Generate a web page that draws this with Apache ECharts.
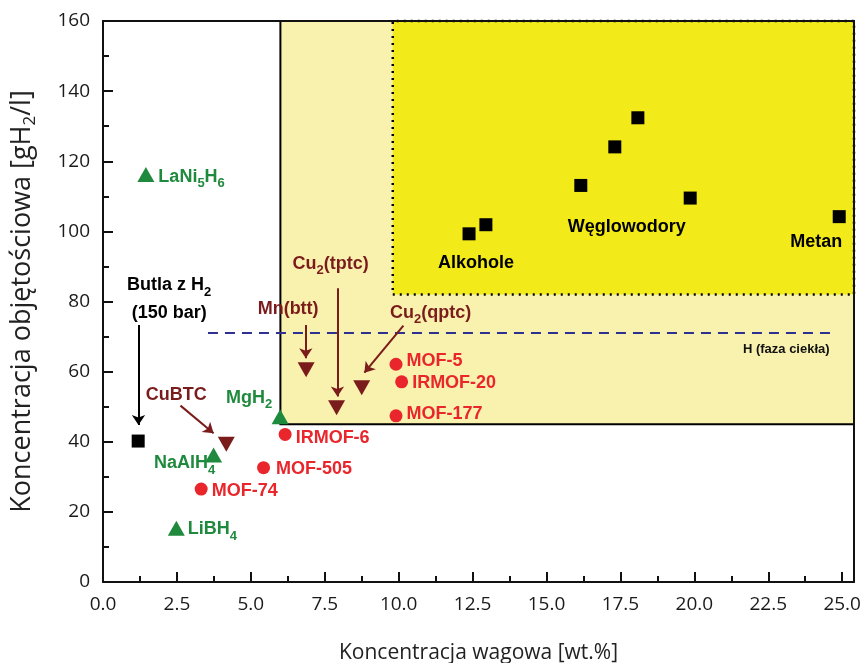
<!DOCTYPE html>
<html><head><meta charset="utf-8">
<script src="https://cdn.jsdelivr.net/npm/echarts@6/dist/echarts.min.js"></script>
<style>html,body{margin:0;padding:0;background:#fff}#c{width:863px;height:663px}</style>
</head><body><div id="c"></div>
<script>
// ---- axes ----
const xTicks = [0, 2.5, 5, 7.5, 10, 12.5, 15, 17.5, 20, 22.5, 25];
const xMinorTicks = [1.25, 3.75, 6.25, 8.75, 11.25, 13.75, 16.25, 18.75, 21.25, 23.75];
const xMax = 25.4;
const yMin = 0, yMax = 160, yStep = 20;

// ---- data ----
// black squares
const sqNames = ['Butla', 'Alk1', 'Alk2', 'Weg1', 'Weg2', 'Weg3', 'Weg4', 'Metan'];
const sqX = [1.19, 12.38, 12.95, 16.16, 17.31, 18.09, 19.86, 24.9];
const sqY = [40.2, 99.3, 101.9, 113.1, 124.1, 132.4, 109.5, 104.2];
// hydrides (green triangles)
const hyNames = ['LaNi5H6', 'NaAlH4', 'LiBH4', 'MgH2'];
const hyX = [1.45, 3.74, 2.48, 5.99];
const hyY = [116.2, 36.2, 15.3, 47.1];
// MOFs (red circles)
const mofNames = ['MOF-74', 'MOF-505', 'IRMOF-6', 'MOF-5', 'IRMOF-20', 'MOF-177'];
const mofX = [3.32, 5.43, 6.16, 9.91, 10.1, 9.91];
const mofY = [26.5, 32.6, 42.1, 62.1, 57.1, 47.4];
// Cu / Mn frameworks (dark red down triangles)
const cuNames = ['CuBTC', 'Mn(btt)', 'Cu2(tptc)', 'Cu2(qptc)'];
const cuX = [4.17, 6.87, 7.9, 8.75];
const cuY = [39.3, 60.5, 49.7, 55.4];
// arrows
const arrowNames = ['Butla', 'CuBTC', 'Mn(btt)', 'Cu2(tptc)', 'Cu2(qptc)'];
const arrowFrom = [[1.2, 73.3], [2.62, 50.3], [6.86, 73.3], [7.93, 83.8], [10.16, 73.1]];
const arrowTo = [[1.2, 44.8], [3.74, 42.4], [6.86, 63.8], [7.93, 52.9], [8.84, 59.7]];
// liquid hydrogen density line
const liquidY = 71;
const liquidX = [3.55, 24.8];
// target regions [xStart, yStart]
const regionLight = [6, 45];
const regionBright = [9.8, 82];

// ---- styles ----
const GREEN = '#1f8a3d', RED = '#e8262b', DRED = '#7b1c1c', BLACK = '#000';
const LF = 'Liberation Sans';
const AF = 'Open Sans';
function rich(color) {
  return {
    m: { fontFamily: LF, fontWeight: 'bold', fontSize: 18, color: color },
    b: { fontFamily: LF, fontWeight: 'bold', fontSize: 18, color: color, lineHeight: 28 },
    s: { fontFamily: LF, fontWeight: 'bold', fontSize: 13, color: color, lineHeight: 14, padding: [14, 0, 0, 0] }
  };
}
const labelSpec = {
  'Butla': { text: '{b|Butla z H}{s|2}\n{b|(150 bar)}', position: 'inside', offset: [31, -142] },
  'Alk1': { text: '{m|Alkohole}', position: 'inside', offset: [7, 29] },
  'Weg1': { text: '{m|Węglowodory}', position: 'inside', offset: [46, 42] },
  'Metan': { text: '{m|Metan}', position: 'inside', offset: [-23, 25] },
  'LaNi5H6': { text: '{m|LaNi}{s|5}{m|H}{s|6}', position: 'right', distance: 4, offset: [0, 2] },
  'NaAlH4': { text: '{m|NaAlH}{s|4}', position: 'inside', offset: [-29, 8] },
  'LiBH4': { text: '{m|LiBH}{s|4}', position: 'right', distance: 3, offset: [0, 1] },
  'MgH2': { text: '{m|MgH}{s|2}', position: 'inside', offset: [-31, -19] },
  'MOF-74': { text: '{m|MOF-74}', position: 'right', distance: 4, offset: [0, 2] },
  'MOF-505': { text: '{m|MOF-505}', position: 'right', distance: 6, offset: [0, 1] },
  'IRMOF-6': { text: '{m|IRMOF-6}', position: 'right', distance: 4, offset: [0, 4] },
  'MOF-5': { text: '{m|MOF-5}', position: 'right', distance: 4, offset: [0, -3] },
  'IRMOF-20': { text: '{m|IRMOF-20}', position: 'right', distance: 4, offset: [0, 1] },
  'MOF-177': { text: '{m|MOF-177}', position: 'right', distance: 4, offset: [0, -2] },
  'CuBTC': { text: '{m|CuBTC}', position: 'inside', offset: [-50, -49] },
  'Mn(btt)': { text: '{m|Mn(btt)}', position: 'inside', offset: [-18, -61] },
  'Cu2(tptc)': { text: '{m|Cu}{s|2}{m|(tptc)}', position: 'inside', offset: [-6, -144] },
  'Cu2(qptc)': { text: '{m|Cu}{s|2}{m|(qptc)}', position: 'inside', offset: [69, -75] }
};

function buildData(names, xs, ys, color) {
  return names.map((n, i) => {
    const item = { name: n, value: [xs[i], ys[i]] };
    const sp = labelSpec[n];
    if (sp) {
      item.label = {
        show: true, formatter: sp.text, position: sp.position,
        distance: sp.distance || 0, offset: sp.offset, rich: rich(color)
      };
    }
    return item;
  });
}

const axisLineStyle = { color: '#111', width: 2 };
const tickFont = { fontFamily: AF, fontSize: 19, color: '#1a1a1a' };

const option = {
  animation: false,
  backgroundColor: '#fff',
  grid: { left: 103, right: 9, top: 21, bottom: 81, containLabel: false, outerBoundsMode: 'none' },
  xAxis: [
    {
      type: 'value', position: 'bottom', min: 0, max: xMax, z: 10,
      axisLine: { show: true, onZero: false, lineStyle: axisLineStyle },
      axisTick: { show: true, inside: true, length: 10, customValues: xTicks, lineStyle: { color: '#111', width: 2 } },
      axisLabel: { show: true, customValues: xTicks, formatter: v => v.toFixed(1), margin: 13, ...tickFont },
      splitLine: { show: false },
      name: 'Koncentracja wagowa [wt.%]', nameLocation: 'middle', nameGap: 61,
      nameTextStyle: { fontFamily: AF, fontSize: 21, color: '#222' }
    },
    {
      type: 'value', position: 'bottom', min: 0, max: xMax, z: 10,
      axisLine: { show: false },
      axisTick: { show: true, inside: true, length: 6, customValues: xMinorTicks, lineStyle: { color: '#111', width: 2 } },
      axisLabel: { show: false },
      splitLine: { show: false }
    },
    {
      type: 'value', position: 'top', min: 0, max: xMax, z: 10,
      axisLine: { show: true, onZero: false, lineStyle: axisLineStyle },
      axisTick: { show: false }, axisLabel: { show: false }, splitLine: { show: false }
    }
  ],
  yAxis: [
    {
      type: 'value', position: 'left', min: yMin, max: yMax, interval: yStep, z: 10,
      axisLine: { show: true, onZero: false, lineStyle: axisLineStyle },
      axisTick: { show: true, inside: true, length: 10, lineStyle: { color: '#111', width: 2 } },
      minorTick: { show: true, splitNumber: 2, length: 6, lineStyle: { color: '#111', width: 2 } },
      axisLabel: { show: true, margin: 13, ...tickFont },
      splitLine: { show: false },
      name: '{a|Koncentracja objętościowa [gH}{s|2}{a|/l]}', nameLocation: 'middle', nameGap: 67, nameRotate: 90,
      nameTextStyle: {
        rich: {
          a: { fontFamily: AF, fontSize: 27, color: '#222' },
          s: { fontFamily: AF, fontSize: 17, color: '#222', lineHeight: 18, padding: [15, 0, 0, 0] }
        }
      }
    },
    {
      type: 'value', position: 'right', min: yMin, max: yMax, z: 10,
      axisLine: { show: true, onZero: false, lineStyle: axisLineStyle },
      axisTick: { show: false }, axisLabel: { show: false }, splitLine: { show: false }
    }
  ],
  series: [
    {
      type: 'line', name: 'liquid', xAxisIndex: 0, yAxisIndex: 0,
      data: [[liquidX[0], liquidY], [liquidX[1], liquidY]],
      symbol: 'none', silent: true, z: 3,
      lineStyle: { color: '#2e3192', width: 2, type: [10, 7] },
      markArea: {
        silent: true,
        data: [
          [{ xAxis: regionLight[0], yAxis: regionLight[1], itemStyle: { color: '#f9f2ae', borderColor: '#000', borderWidth: 2 } },
           { xAxis: xMax, yAxis: yMax }],
          [{ xAxis: regionBright[0], yAxis: regionBright[1], itemStyle: { color: '#f3ea19', borderColor: '#000', borderWidth: 2.5, borderType: [2, 5] } },
           { xAxis: xMax, yAxis: yMax }]
        ]
      },
      markPoint: {
        silent: true, symbol: 'circle', symbolSize: 0,
        data: [{ coord: [liquidX[1], liquidY],
          label: { show: true, formatter: 'H (faza ciekła)', position: 'inside', offset: [-50, 16],
            fontFamily: LF, fontWeight: 'bold', fontSize: 13, color: '#111' } }]
      }
    },
    {
      type: 'lines', coordinateSystem: 'cartesian2d', z: 4, silent: true,
      symbol: ['none', 'arrow'], symbolSize: 10,
      data: arrowNames.map((n, i) => ({
        name: n, coords: [arrowFrom[i], arrowTo[i]],
        lineStyle: { color: n === 'Butla' ? BLACK : DRED, width: 2, opacity: 1 }
      })),
      lineStyle: { width: 2, opacity: 1, curveness: 0 }
    },
    {
      type: 'scatter', name: 'squares', z: 5, symbol: 'rect', symbolSize: 13,
      itemStyle: { color: BLACK, opacity: 1 },
      data: buildData(sqNames, sqX, sqY, BLACK)
    },
    {
      type: 'scatter', name: 'hydrides', z: 5, symbol: 'triangle', symbolSize: [17, 15],
      itemStyle: { color: GREEN, opacity: 1 },
      data: buildData(hyNames, hyX, hyY, GREEN)
    },
    {
      type: 'scatter', name: 'mofs', z: 5, symbol: 'circle', symbolSize: 13,
      itemStyle: { color: RED, opacity: 1 },
      data: buildData(mofNames, mofX, mofY, RED)
    },
    {
      type: 'scatter', name: 'cu', z: 5, symbol: 'triangle', symbolRotate: 180, symbolSize: [17, 15],
      itemStyle: { color: DRED, opacity: 1 },
      data: buildData(cuNames, cuX, cuY, DRED)
    }
  ]
};
const chart = echarts.init(document.getElementById('c'), null, { renderer: 'canvas' });
chart.setOption(option);
</script></body></html>
